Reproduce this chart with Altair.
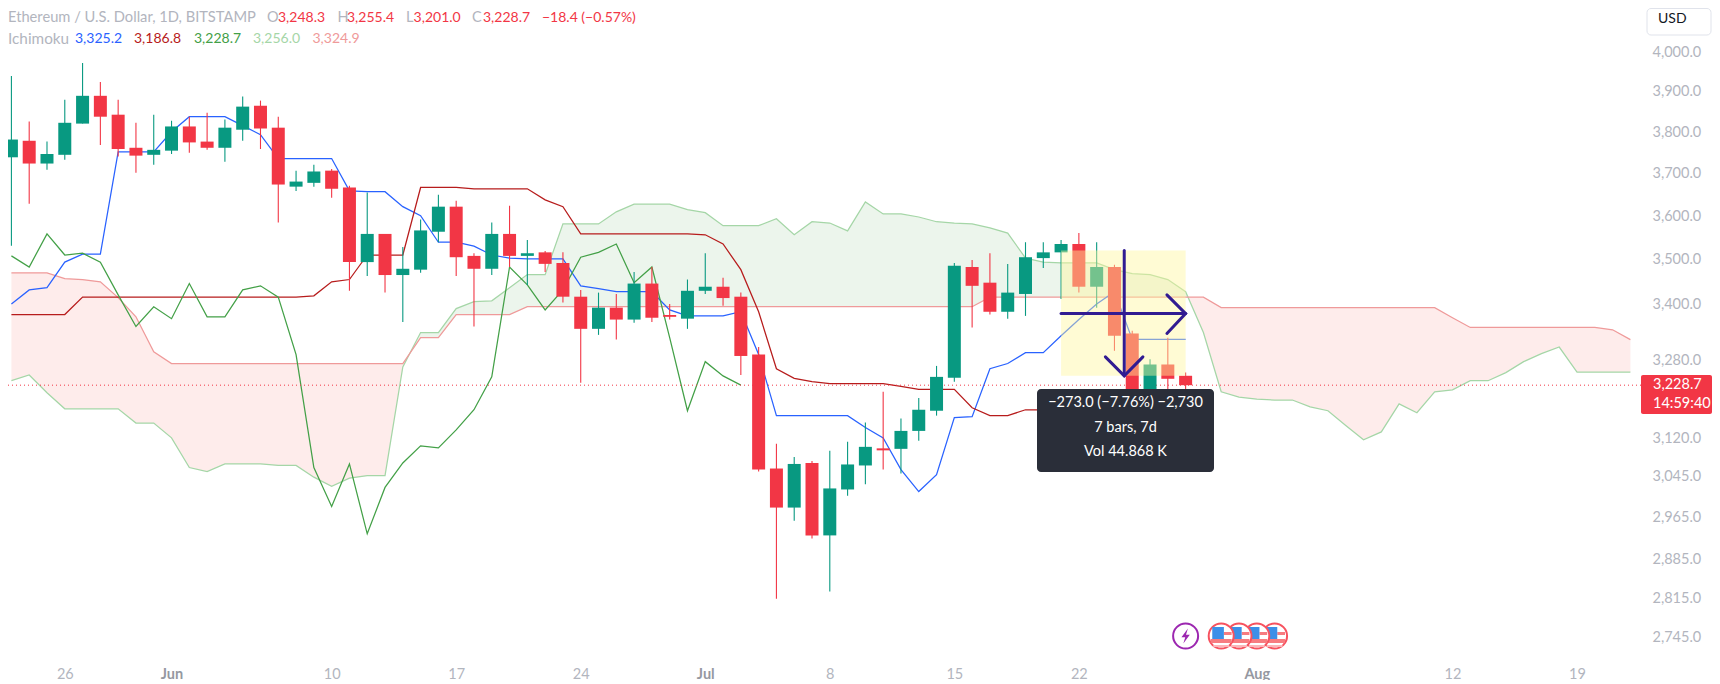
import altair as alt
import pandas as pd

FONT = "Lato"
opens = [3739,3779,3724,3745,3821,3890,3843,3762,3745,3755,3814,3777,3762,3806,3865,3811,3669,3678,3707,3667,3495,3559,3466,3478,3564,3622,3509,3480,3559,3509,3517,3493,3418,3348,3394,3368,3447,3378,3370,3431,3440,3418,3293,3060,2984,3071,2931,3019,3066,3100,3099,3135,3176,3244,3484,3449,3385,3424,3504,3517,3536,3440,3484,3338,3206,3272,3248.3]
highs = [3940,3826,3777,3880,3973,3925,3880,3823,3843,3828,3838,3848,3831,3888,3878,3838,3707,3721,3711,3671,3655,3559,3529,3592,3650,3636,3515,3585,3624,3545,3520,3517,3433,3427,3424,3473,3484,3402,3456,3515,3460,3427,3309,3109,3083,3075,3095,3113,3152,3215,3160,3202,3269,3493,3500,3515,3491,3540,3540,3545,3561,3540,3489,3344,3283,3329,3255.4]
lows = [3532,3629,3709,3733,3821,3769,3741,3702,3721,3747,3750,3757,3728,3779,3759,3585,3659,3669,3643,3431,3464,3427,3363,3471,3540,3464,3353,3466,3484,3444,3473,3405,3234,3335,3325,3361,3363,3368,3348,3424,3398,3250,3054,2814,2959,2925,2827,3007,3029,3058,3050,3115,3166,3236,3351,3379,3370,3376,3482,3413,3427,3394,3301,3200,3198,3208,3201]
closes = [3782,3724,3747,3823,3890,3838,3759,3743,3757,3814,3775,3762,3811,3863,3809,3674,3681,3705,3664,3495,3559,3466,3480,3567,3622,3506,3480,3559,3509,3515,3491,3418,3348,3394,3368,3447,3372,3374,3431,3440,3415,3290,3058,2984,3069,2931,3021,3068,3103,3096,3135,3178,3246,3487,3442,3385,3427,3506,3517,3536,3440,3484,3333,3212,3272,3242,3228.7]

tenkan = [3402,3433,3438,3495,3513,3513,3752,3752,3752,3801,3838,3838,3838,3816,3794,3736,3736,3736,3736,3659,3657,3657,3622,3601,3540,3540,3531,3511,3504,3502,3502,3502,3442,3436,3429,3429,3429,3389,3376,3376,3376,3385,3293,3166,3166,3166,3166,3166,3142,3121,3058,3015,3048,3162,3164,3263,3274,3297,3297,3333,3368,3402,3429,3325.2,3325.2,3325.2,3325.2]
kijun = [3379,3379,3379,3379]+[3417]*13+[3420,3451,3456,3511,3511,3511,3667,3667,3667,3664,3664,3664,3664,3638,3622]+[3559]*7+[3557,3536,3478,3385,3263,3243,3236,3232,3232,3232,3232,3226,3220,3220,3220,3182,3166,3166,3178,3178,3184]+[3186.8]*7
chikou = [3509,3484,3559,3511,3515,3495,3422,3353,3396,3370,3447,3374,3374,3433,3442,3417,3293,3062,2986,3069,2934,3023,3071,3105,3101,3137,3178,3246,3484,3444,3389,3433,3506,3517,3536,3449,3484,3329,3176,3278,3248,3228.7]
span_a = [3238,3250,3213,3180,3180,3180,3180,3151,3151,3121,3062,3054,3069,3069,3069,3066,3066,3043,3025,3041,3046,3046,3267,3340,3340,3392,3407,3409,3438,3467,3467,3582,3582,3582,3610,3628,3628,3628,3615,3608,3578,3578,3578,3594,3557,3587,3584,3566,3633,3605,3605,3598,3587,3584,3582,3573,3561,3504,3495,3493,3493,3493,3478,3469,3467,3456,3429,3340,3215,3204,3200,3198,3198,3184,3176,3146,3117,3133,3190,3172,3215,3219,3238,3238,3255,3278,3295,3309,3256,3256,3256,3256]
span_b = [3471,3471,3471,3458,3456,3451,3416,3374,3299]+[3274]*14+[3329,3329,3379,3379,3379,3379]+[3396]*26+[3417]*13+[3394]*13+[3372,3351]+[3351]*7+[3346,3324.9]

tick_pos = [3,9,18,25,32,39,46,53,60,70,81,88]
tick_labels = ["26","Jun","10","17","24","Jul","8","15","22","Aug","12","19"]
month_pos = [9,39,70]
price_ticks = [4000,3900,3800,3700,3600,3500,3400,3280,3120,3045,2965,2885,2815,2745]
last_price = 3228.7

GREEN, RED = "#089981", "#F23645"
PURPLE = "#311B92"
STEP = 17.9
xs = alt.Scale(domain=[0.0894, 91.54], nice=False, zero=False)
ys = alt.Scale(type="log", domain=[2719.0, 4116.3], nice=False, zero=False)
month_test = "indexof([" + ",".join(map(str, month_pos)) + "],datum.value)>=0"
x_axis = alt.Axis(
    values=tick_pos, grid=False, ticks=False, domain=False, labelPadding=15,
    labelExpr="[" + ",".join(f"'{t}'" for t in tick_labels) + "][indexof([" + ",".join(map(str, tick_pos)) + "],datum.value)]",
    labelFont=FONT, labelFontSize=14.5,
    labelColor={"condition": {"test": month_test, "value": "#9598A1"}, "value": "#B2B5BE"},
    labelFontWeight={"condition": {"test": month_test, "value": "bold"}, "value": "normal"},
    labelFlush=False, labelOverlap=False)
y_axis = alt.Axis(
    orient="right", values=price_ticks, format=",.1f", grid=False, ticks=False, domain=False,
    labelPadding=7, labelFont=FONT, labelFontSize=14.5, labelColor="#B2B5BE",
    labelOverlap=False, labelFlush=False)
X = alt.X("i:Q", scale=xs, axis=x_axis, title=None)


def yenc(f):
    return alt.Y(f, scale=ys, axis=y_axis, title=None)


Y = yenc("p:Q")

n = len(opens)
candles = pd.DataFrame({"i": range(n), "o": opens, "h": highs, "l": lows, "c": closes})
candles["col"] = [GREEN if c >= o else RED for o, c in zip(opens, closes)]
candles["top"] = candles[["o", "c"]].max(axis=1)
candles["bot"] = candles[["o", "c"]].min(axis=1)
colour = alt.Color("col:N", scale=None, legend=None)

one = pd.DataFrame({"k": [0]})


def series(vals):
    return pd.DataFrame({"i": range(len(vals)), "p": vals})


def line(vals, col, w=1.25):
    return alt.Chart(series(vals)).mark_line(color=col, strokeWidth=w).encode(x=X, y=Y)


# cloud polygons, with the crossings of the two spans inserted so the colours meet cleanly
rows = []
for k in range(len(span_a)):
    a, b = span_a[k], span_b[k]
    rows.append((float(k), a, b))
    if k + 1 < len(span_a):
        a2, b2 = span_a[k + 1], span_b[k + 1]
        if (a - b) * (a2 - b2) < 0:
            t = (a - b) / ((a - b) - (a2 - b2))
            m = a + t * (a2 - a)
            rows.append((k + t, m, m))
cloud = pd.DataFrame(rows, columns=["i", "a", "b"])
cloud["base"] = cloud[["a", "b"]].min(axis=1)

layers = []
layers.append(alt.Chart(cloud).mark_area(color="#43A047", opacity=0.1, orient="vertical").encode(x=X, y=yenc("a:Q"), y2="base:Q"))
layers.append(alt.Chart(cloud).mark_area(color="#F44336", opacity=0.1, orient="vertical").encode(x=X, y=yenc("b:Q"), y2="base:Q"))
layers += [line(span_a, "#A5D6A7"), line(span_b, "#EF9A9A"), line(tenkan, "#2962FF"), line(kijun, "#B71C1C"), line(chikou, "#43A047")]
layers.append(alt.Chart(pd.DataFrame({"p": [last_price]})).mark_rule(color=RED, strokeDash=[1, 3], strokeWidth=1).encode(y=Y))
layers.append(alt.Chart(candles).mark_rule(strokeWidth=1.1).encode(x=X, y=yenc("l:Q"), y2="h:Q", color=colour))
layers.append(alt.Chart(candles).mark_bar(size=13, orient="vertical").encode(x=X, y=yenc("top:Q"), y2="bot:Q", color=colour))

# measuring tool: shaded range and arrows
meas_x = [59, 66]
meas_p = [3521.3, 3248.3]
mid_x, mid_p = 62.55, 3381
meas = pd.DataFrame({"i": [meas_x[0]], "i2": [meas_x[1]], "p": [meas_p[0]], "p2": [meas_p[1]]})
layers.append(alt.Chart(meas).mark_rect(color="#FFF69E", opacity=0.44).encode(x=X, x2="i2:Q", y=Y, y2="p2:Q"))
ARW = dict(color=PURPLE, strokeWidth=3, strokeCap="round")
layers.append(alt.Chart(pd.DataFrame({"i": [mid_x], "p": [meas_p[0]], "p2": [meas_p[1]]})).mark_rule(**ARW).encode(x=X, y=Y, y2="p2:Q"))
layers.append(alt.Chart(pd.DataFrame({"i": [meas_x[0]], "i2": [meas_x[1]], "p": [mid_p]})).mark_rule(**ARW).encode(x=X, x2="i2:Q", y=Y))
wing_down = pd.DataFrame({"i": [61.49, 62.55, 63.6], "p": [3288, 3248.3, 3288], "k": [0, 1, 2]})
wing_right = pd.DataFrame({"i": [64.95, 66, 64.95], "p": [3422, 3381, 3338], "k": [0, 1, 2]})
for w in (wing_down, wing_right):
    layers.append(alt.Chart(w).mark_line(strokeJoin="miter", **ARW).encode(x=X, y=Y, order="k:Q"))


def box(x0, x1, y0, y1, **kw):
    return alt.Chart(one).mark_rect(**kw).encode(x=alt.value(x0 - 8), x2=alt.value(x1 - 8), y=alt.value(y0 - 8), y2=alt.value(y1 - 8))


def label(txt, x, y, col, size=14, align="left", weight="normal"):
    return alt.Chart(pd.DataFrame({"t": [txt]})).mark_text(
        font=FONT, fontSize=size, color=col, align=align, baseline="middle", fontWeight=weight
    ).encode(text="t:N", x=alt.value(x - 8), y=alt.value(y - 8))


# tooltip of the measure
layers.append(box(1037, 1214, 389, 472, color="#2A2E39", cornerRadius=4))
tip_lines = ["\u2212273.0 (\u22127.76%) \u22122,730", "7 bars, 7d", "Vol 44.868\u202fK"]
tip_y = [403, 428, 452]
for t, y in zip(tip_lines, tip_y):
    layers.append(label(t, 1125.5, y, "white", align="center", size=14.5))

# event markers
EV_Y = 636 - 8
layers.append(alt.Chart(pd.DataFrame({"i": [66]})).mark_point(filled=False, color="#9C27B0", strokeWidth=2, size=625, opacity=1).encode(x=X, y=alt.value(EV_Y)))
layers.append(alt.Chart(pd.DataFrame({"i": [66]})).mark_point(filled=True, color="#9C27B0", opacity=1, size=230,
    shape="M0.3,-1 L-0.55,0.15 L-0.05,0.15 L-0.3,1 L0.55,-0.15 L0.05,-0.15 Z").encode(x=X, y=alt.value(EV_Y)))
flags = [71, 70, 69, 68]
for f in flags:
    layers.append(alt.Chart(pd.DataFrame({"i": [f]})).mark_point(filled=True, fill="white", stroke="#F7525F", strokeWidth=2, size=625, opacity=1).encode(x=X, y=alt.value(EV_Y)))
    parts = [(-10.5, 10.5, 3, 7, "#F77C80"), (2.7, 10.5, -4, -1, "#F77C80"), (-8, 8, 9, 11, "#FBB7BA"), (-9, 2.7, -9, 3, "#3D8FE8")]
    for a, b, y0, y1, col in parts:
        layers.append(alt.Chart(pd.DataFrame({"i": [f + a / STEP], "i2": [f + b / STEP]})).mark_rect(color=col).encode(
            x=X, x2="i2:Q", y=alt.value(EV_Y + y0), y2=alt.value(EV_Y + y1)))

# header legend
grey = "#B2B5BE"
row1 = [("Ethereum / U.S. Dollar, 1D, BITSTAMP", 8, grey, 14.7), ("O", 267, grey, 14.5), ("3,248.3", 278, RED, 14), ("H", 337.5, grey, 14.5), ("3,255.4", 347, RED, 14),
        ("L", 406, grey, 14.5), ("3,201.0", 413.6, RED, 14), ("C", 472, grey, 14.5), ("3,228.7", 483, RED, 14), ("\u221218.4 (\u22120.57%)", 542, RED, 14)]
row2 = [("Ichimoku", 8, grey, 15.3), ("3,325.2", 75, "#2962FF", 14), ("3,186.8", 134, "#B71C1C", 14), ("3,228.7", 194, "#43A047", 14), ("3,256.0", 253, "#A5D6A7", 14), ("3,324.9", 312.5, "#EF9A9A", 14)]
for t, x, c, s in row1:
    layers.append(label(t, x, 18, c, size=s))
for t, x, c, s in row2:
    layers.append(label(t, x, 39, c, size=s))

# currency button and last-price tag
layers.append(box(1647, 1711, 8.5, 35, color="white", stroke="#E0E3EB", strokeWidth=1, cornerRadius=4))
layers.append(label("USD", 1658, 19, "#131722"))
layers.append(box(1641, 1712, 375, 414, color=RED, cornerRadius=2))
layers.append(label("3,228.7", 1653, 385, "white", size=14.5))
layers.append(label("14:59:40", 1653, 404, "white", size=14.5))

chart = alt.layer(*layers).properties(
    width=1637, height=644,
    autosize=alt.AutoSizeParams(type="none"),
    padding={"left": 0, "top": 0, "right": 67, "bottom": 28},
    background="white",
).configure_view(stroke=None)

chart.save("out.html", embed_options={"renderer": "svg", "actions": False})
